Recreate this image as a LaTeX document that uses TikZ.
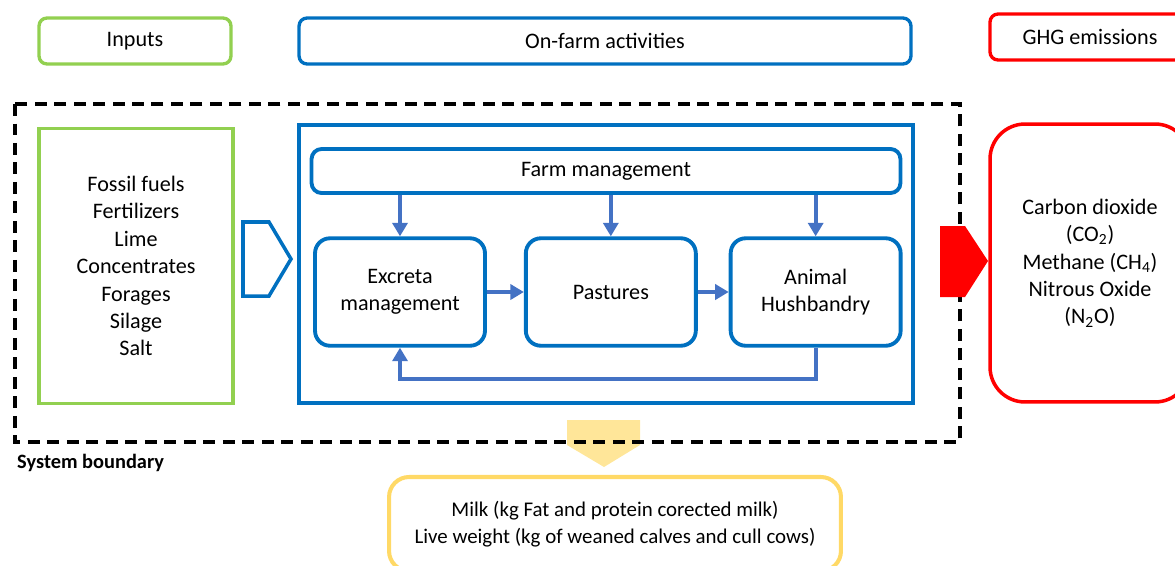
\documentclass[tikz,border=0pt]{standalone}
\usepackage{fontspec}
\setmainfont{Carlito}
\usepackage{xcolor}
\usetikzlibrary{arrows.meta,positioning}

\definecolor{ingreen}{HTML}{92D050}
\definecolor{farmblue}{HTML}{0070C0}
\definecolor{flowblue}{HTML}{4472C4}
\definecolor{ghgred}{HTML}{FF0000}
\definecolor{outyellow}{HTML}{FFD966}
\definecolor{outfill}{HTML}{FFE699}

\begin{document}
\begin{tikzpicture}[
    x=0.02cm, y=-0.02cm,
    font=\fontsize{12.6}{15.6}\selectfont,
    hdr/.style={rectangle, rounded corners=0.16cm, line width=1.9pt, minimum height=0.92cm, align=center},
    frame/.style={rectangle, line width=2.2pt, align=center},
    stage/.style={rectangle, draw=farmblue, rounded corners=0.3cm, line width=2.2pt,
        minimum width=3.4cm, minimum height=2.15cm, align=center},
    flow/.style={-{Triangle[width=0.3cm,length=0.27cm]}, draw=flowblue, line width=2.3pt}
]
\useasboundingbox (0,0) rectangle (1175,565);
\clip (0,0) rectangle (1175,565);

% headers
\node[hdr, draw=ingreen, minimum width=3.84cm] (inhdr) at (135,41) {Inputs};
\node[hdr, draw=farmblue, minimum width=12.24cm] (farmhdr) at (605,41) {On-farm activities};
\node[hdr, draw=ghgred, minimum width=4cm] (ghghdr) at (1090,37) {GHG emissions};

% output arrow (under the boundary line)
\fill[outfill] (567,420) -- (640,420) -- (640,445) -- (604,467) -- (567,445) -- cycle;

% system boundary
\draw[line width=2.6pt, dash pattern=on 0.24cm off 0.15cm] (15,104) rectangle (960,442);
\node[font=\fontsize{11.6}{13}\selectfont\bfseries, anchor=west] (sysb) at (11,463) {System boundary};

% inputs
\node[frame, draw=ingreen, line width=1.8pt, minimum width=3.88cm, minimum height=5.5cm] (inputs) at (136,266)
    {Fossil fuels\\Fertilizers\\Lime\\Concentrates\\Forages\\Silage\\Salt};
\draw[farmblue, line width=2pt] (243,222) -- (269,222) -- (291,259) -- (269,296) -- (243,296) -- cycle;

% on-farm activities
\node[frame, draw=farmblue, minimum width=12.28cm, minimum height=5.56cm] (farm) at (606,264) {};
\node[stage, rounded corners=0.2cm, minimum width=11.78cm, minimum height=0.88cm] (mgmt) at (606,171) {Farm management};
\node[stage] (excreta) at (400,292) {Excreta\\management};
\node[stage, right=0.74cm of excreta] (pastures) {Pastures};
\node[stage, right=0.62cm of pastures] (animal) {Animal\\Hushbandry};

\draw[flow] (mgmt.south -| excreta) -- (excreta.north);
\draw[flow] (mgmt.south -| pastures) -- (pastures.north);
\draw[flow] (mgmt.south -| animal) -- (animal.north);
\draw[flow] (excreta) -- (pastures);
\draw[flow] (pastures) -- (animal);
\draw[flow] (animal.south) -- ++(0,31) -| (excreta.south);

% emissions
\fill[ghgred] (940,226) -- (965,226) -- (988,261) -- (965,297) -- (940,297) -- cycle;
\node[frame, draw=ghgred, line width=2pt, rounded corners=0.7cm, minimum width=4cm, minimum height=5.56cm] (ghg) at (1090,263)
    {Carbon dioxide\\(CO\textsubscript{2})\\Methane (CH\textsubscript{4})\\Nitrous Oxide\\(N\textsubscript{2}O)};

% products
\node[frame, draw=outyellow, line width=2.3pt, rounded corners=0.4cm, minimum width=9.04cm, minimum height=1.88cm,
    font=\fontsize{11.9}{15}\selectfont] (milk) at (615,524)
    {Milk (kg Fat and protein corected milk)\\Live weight (kg of weaned calves and cull cows)};
\end{tikzpicture}
\end{document}
